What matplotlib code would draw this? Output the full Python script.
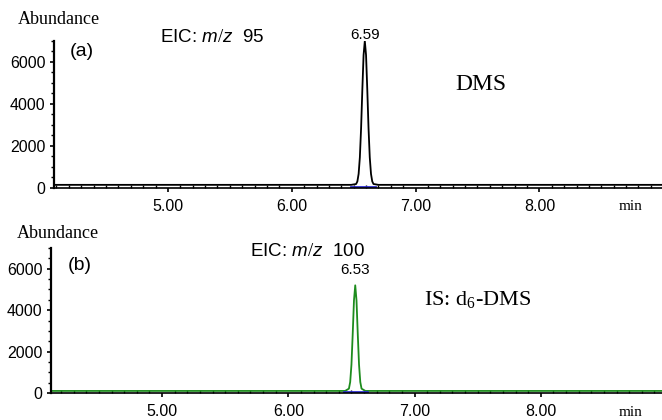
import matplotlib.pyplot as plt
from matplotlib.ticker import MultipleLocator

plt.rcParams['mathtext.fontset'] = 'custom'
plt.rcParams['mathtext.it'] = 'Liberation Sans:italic'
plt.rcParams['mathtext.rm'] = 'Liberation Serif'

# top trace: EIC m/z 95 (DMS)
time_a = [4.08, 6.48, 6.52, 6.53, 6.54, 6.55, 6.56, 6.57, 6.58, 6.59,
          6.60, 6.61, 6.62, 6.63, 6.64, 6.65, 6.66, 6.70, 8.99]
abund_a = [150, 150, 190, 315, 670, 1460, 2850, 4680, 6330, 7000,
           6330, 4680, 2850, 1460, 670, 315, 190, 150, 150]

# bottom trace: EIC m/z 100 (IS d6-DMS)
time_b = [4.12, 6.45, 6.48, 6.49, 6.50, 6.51, 6.52, 6.53, 6.54, 6.55,
          6.56, 6.57, 6.58, 6.61, 8.96]
abund_b = [100, 100, 210, 530, 1370, 2850, 4470, 5200, 4470, 2850,
           1370, 530, 210, 100, 100]

# integration baselines (blue)
base_a = [6.48, 6.67]
base_b = [6.44, 6.62]

W, H = 662, 420
fig = plt.figure(figsize=(W / 100, H / 100), dpi=100)


def px(x, y):
    return x / W, 1 - y / H


def setup(ax, xlim):
    ax.set_xlim(*xlim)
    ax.set_ylim(0, 7000)
    for s in ['top', 'right']:
        ax.spines[s].set_visible(False)
    ax.spines['left'].set_linewidth(1.6)
    ax.spines['bottom'].set_linewidth(1.2)
    ax.set_xticks([5, 6, 7, 8])
    ax.set_xticklabels(['5.00', '6.00', '7.00', '8.00'])
    ax.xaxis.set_minor_locator(MultipleLocator(0.1))
    ax.set_yticks([0, 2000, 4000, 6000])
    ax.yaxis.set_minor_locator(MultipleLocator(500))
    ax.tick_params(axis='x', which='major', direction='out', length=3, width=1.2,
                   labelsize=11.5, pad=5)
    ax.tick_params(axis='x', which='minor', direction='in', length=2, width=1)
    ax.tick_params(axis='y', which='major', direction='out', length=3, width=1.2,
                   labelsize=11.5, pad=3)
    ax.tick_params(axis='y', which='minor', direction='out', length=2, width=1)
    for lbl in ax.get_xticklabels() + ax.get_yticklabels():
        lbl.set_family('Liberation Sans')


serif = 'Liberation Serif'
sans = 'Liberation Sans'

ax1 = fig.add_axes([54 / W, 1 - 188 / H, 1 - 54 / W, (188 - 41) / H])
setup(ax1, (4.08, 8.99))
ax1.plot(time_a, abund_a, color='black', lw=1.3)
ax1.plot(base_a, [60, 60], color='#2a2ad0', lw=2)
ax1.text(6.59, 6950, '6.59', ha='center', va='bottom', fontsize=11, family=sans)

ax2 = fig.add_axes([51 / W, 1 - 393 / H, 1 - 51 / W, (393 - 248) / H])
setup(ax2, (4.12, 8.96))
ax2.plot(time_b, abund_b, color='#1e8c1e', lw=1.3)
ax2.plot(base_b, [40, 40], color='#2a2ad0', lw=2)
ax2.text(6.53, 5600, '6.53', ha='center', va='bottom', fontsize=11, family=sans)

fig.text(*px(18, 20), 'Abundance', family=serif, fontsize=13, va='center')
fig.text(*px(17, 234), 'Abundance', family=serif, fontsize=13, va='center')
fig.text(*px(70, 52), '(a)', family=sans, fontsize=14, va='center')
fig.text(*px(68, 265), '(b)', family=sans, fontsize=14, va='center')
fig.text(*px(160, 37), 'EIC: $\\it{m/z}$  95', family=sans, fontsize=13.5, va='center')
fig.text(*px(250, 252), 'EIC: $\\it{m/z}$  100', family=sans, fontsize=13.5, va='center')
fig.text(*px(455, 84), 'DMS', family=serif, fontsize=17, va='center')
fig.text(*px(424, 300), 'IS: d$_6$-DMS', family=serif, fontsize=16, va='center')
fig.text(*px(619, 207), 'min', family=serif, fontsize=11, va='center')
fig.text(*px(619, 412), 'min', family=serif, fontsize=11, va='center')

fig.savefig('out.png', dpi=100)
